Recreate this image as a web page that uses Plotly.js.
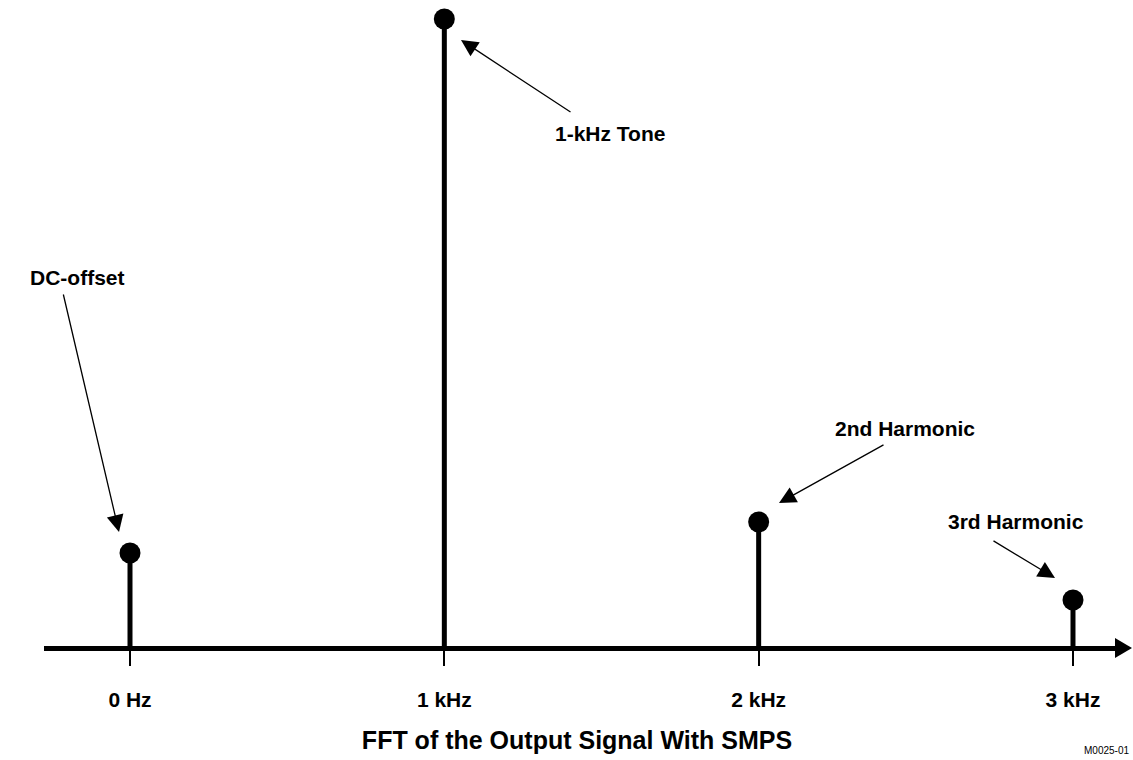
<!DOCTYPE html>
<html>
<head>
<meta charset="utf-8">
<script src="https://cdn.plot.ly/plotly-3.0.1.min.js"></script>
<style>html,body{margin:0;padding:0;background:#fff;}#chart{width:1133px;height:760px;}</style>
</head>
<body>
<div id="chart"></div>
<script>
// Data
const freqs = [0, 1, 2, 3];
const tickLabels = ['0 Hz', '1 kHz', '2 kHz', '3 kHz'];
const amplitudes = [95, 629, 126, 48];
const calloutLabels = ['DC-offset', '1-kHz Tone', '2nd Harmonic', '3rd Harmonic'];

const W = 1133, H = 760;
const FONT = 'Arial, "Liberation Sans", Helvetica, sans-serif';
const px = v => v / W;          // pixel x -> paper
const py = v => 1 - v / H;      // pixel y -> paper

// callout layout (pixels): text centre, arrow tip, arrow tail offset
const calloutText = [[77, 277], [610, 133], [905, 428], [1016, 521]];
const arrowTip = [[119, 532], [461, 40], [779, 503], [1055, 578]];
const arrowOff = [[-56, -239], [111, 73], [106, -59], [-63, -38]];

const annotations = [];
calloutLabels.forEach((t, i) => {
  annotations.push({
    xref: 'paper', yref: 'paper', x: px(calloutText[i][0]), y: py(calloutText[i][1]),
    text: '<b>' + t + '</b>', showarrow: false, xanchor: 'center', yanchor: 'middle',
    font: {family: FONT, size: 21, color: '#000'}
  });
  annotations.push({
    xref: 'paper', yref: 'paper', x: px(arrowTip[i][0]), y: py(arrowTip[i][1]),
    axref: 'pixel', ayref: 'pixel', ax: arrowOff[i][0], ay: arrowOff[i][1],
    text: '', showarrow: true, arrowhead: 2, arrowsize: 2.6, arrowwidth: 1.3,
    arrowcolor: '#000', standoff: 0, startstandoff: 0
  });
});
annotations.push({
  xref: 'paper', yref: 'paper', x: px(1082), y: py(758), xanchor: 'left', yanchor: 'bottom',
  text: 'M0025-01', showarrow: false, font: {family: FONT, size: 10, color: '#000'}
});

const d0 = 44, d1 = 1118, scale = 314.33, zeroPx = 130;
const r0 = -(zeroPx - d0) / scale;
const r1 = r0 + (d1 - d0) / scale;

const traces = [
  {
    type: 'bar', x: freqs, y: amplitudes, width: 5 / scale,
    marker: {color: '#000', line: {width: 0}}, hoverinfo: 'skip'
  },
  {
    type: 'scatter', mode: 'markers', x: freqs, y: amplitudes,
    marker: {color: '#000', size: 21}, hoverinfo: 'skip'
  }
];

const layout = {
  width: W, height: H,
  margin: {l: 0, r: 0, t: 0, b: 0},
  paper_bgcolor: '#fff', plot_bgcolor: '#fff',
  showlegend: false,
  title: {
    text: '<b>FFT of the Output Signal With SMPS</b>',
    x: px(577), xanchor: 'center', y: py(740), yanchor: 'middle',
    font: {family: FONT, size: 25, color: '#000'}
  },
  xaxis: {
    domain: [d0 / W, d1 / W], range: [r0, r1],
    anchor: 'free', position: py(648),
    showline: true, linewidth: 5, linecolor: '#000',
    showgrid: false, zeroline: false,
    ticks: 'outside', ticklen: 15, tickwidth: 2, tickcolor: '#000',
    tickmode: 'array', tickvals: freqs, ticktext: tickLabels.map(t => '<b>' + t + '</b>'),
    tickfont: {family: FONT, size: 21, color: '#000'},
    ticklabelstandoff: 16, fixedrange: true
  },
  yaxis: {
    domain: [0, 1], range: [-(H - 648), 648], visible: false, fixedrange: true
  },
  annotations: annotations,
  shapes: [{
    type: 'path', xref: 'paper', yref: 'paper',
    path: 'M ' + px(1115) + ' ' + py(638) + ' L ' + px(1115) + ' ' + py(658) + ' L ' + px(1132) + ' ' + py(648) + ' Z',
    fillcolor: '#000', line: {color: '#000', width: 0}
  }]
};

Plotly.newPlot('chart', traces, layout, {displayModeBar: false, staticPlot: true});
</script>
</body>
</html>
